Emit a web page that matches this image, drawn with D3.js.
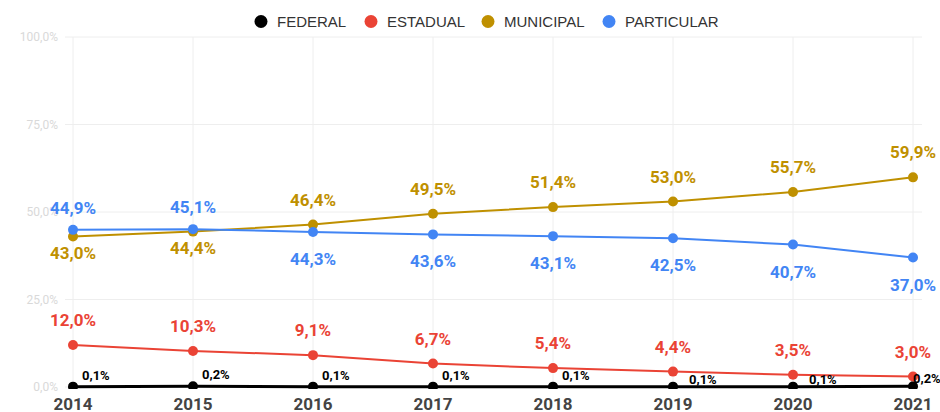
<!DOCTYPE html>
<html>
<head>
<meta charset="utf-8">
<script src="https://cdn.jsdelivr.net/npm/d3@7"></script>
<style>
  body { margin: 0; background: #fff; font-family: Roboto, "Noto Sans", sans-serif; }
  svg { display: block; }
</style>
</head>
<body>
<div id="chart"></div>
<script>
var years = ["2014", "2015", "2016", "2017", "2018", "2019", "2020", "2021"];
var federal = [0.1, 0.2, 0.1, 0.1, 0.1, 0.1, 0.1, 0.2];
var estadual = [12.0, 10.3, 9.1, 6.7, 5.4, 4.4, 3.5, 3.0];
var municipal = [43.0, 44.4, 46.4, 49.5, 51.4, 53.0, 55.7, 59.9];
var particular = [44.9, 45.1, 44.3, 43.6, 43.1, 42.5, 40.7, 37.0];
var yTicks = [0, 25, 50, 75, 100];

var width = 940, height = 412;

var series = [
  { name: "FEDERAL", values: federal, color: "#000000" },
  { name: "ESTADUAL", values: estadual, color: "#ea4335" },
  { name: "MUNICIPAL", values: municipal, color: "#bf9000" },
  { name: "PARTICULAR", values: particular, color: "#4285f4" }
];

var fmt = function (v) { return d3.format(".1f")(v).replace(".", ","); };

var x = d3.scalePoint()
    .domain(years)
    .range([73, 913]);

var y = d3.scaleLinear()
    .domain([0, 100])
    .range([387, 37]);

var svg = d3.select("#chart")
    .append("svg")
    .attr("width", width)
    .attr("height", height);

svg.append("clipPath")
    .attr("id", "plot-clip")
  .append("rect")
    .attr("x", 0)
    .attr("y", 0)
    .attr("width", width)
    .attr("height", y(0) + 2);

// grid
svg.append("g")
  .selectAll("line")
  .data(yTicks)
  .enter().append("line")
    .attr("x1", 65)
    .attr("x2", 922)
    .attr("y1", d => y(d))
    .attr("y2", d => y(d))
    .attr("stroke", "#eeeeee")
    .attr("stroke-width", 1);

svg.append("g")
  .selectAll("line")
  .data(years)
  .enter().append("line")
    .attr("x1", d => x(d))
    .attr("x2", d => x(d))
    .attr("y1", y(100))
    .attr("y2", y(0))
    .attr("stroke", "#eeeeee")
    .attr("stroke-width", 1);

// y labels
svg.append("g")
  .selectAll("text")
  .data(yTicks)
  .enter().append("text")
    .attr("x", 58)
    .attr("y", d => y(d))
    .attr("dy", "0.35em")
    .attr("text-anchor", "end")
    .attr("font-size", 12)
    .attr("fill", "#d9d9d9")
    .text(d => fmt(d) + "%");

// x labels
svg.append("g")
  .selectAll("text")
  .data(years)
  .enter().append("text")
    .attr("x", d => x(d))
    .attr("y", 410)
    .attr("text-anchor", "middle")
    .attr("font-size", 17)
    .attr("font-weight", "bold")
    .attr("fill", "#444444")
    .text(d => d);

var line = d3.line()
    .x((d, i) => x(years[i]))
    .y(d => y(d));

var plot = svg.append("g").attr("clip-path", "url(#plot-clip)");

series.forEach(function (s) {
  plot.append("path")
      .datum(s.values)
      .attr("d", line)
      .attr("fill", "none")
      .attr("stroke", s.color)
      .attr("stroke-width", s.name == "FEDERAL" ? 3 : 2);

  plot.selectAll(null)
      .data(s.values)
      .enter().append("circle")
      .attr("cx", (d, i) => x(years[i]))
      .attr("cy", d => y(d))
      .attr("r", 5)
      .attr("fill", s.color);
});

// data labels
function labelOffset(s, i) {
  if (s.name == "ESTADUAL") return -19;
  if (s.name == "MUNICIPAL") return municipal[i] < particular[i] ? 22 : -19;
  if (s.name == "PARTICULAR") return particular[i] > municipal[i] ? -16 : 33;
  // federal: push down a little when the estadual line is close
  return (y(federal[i]) - y(estadual[i])) < 16 ? -3 : -7;
}

function labelDx(s, i) {
  if (s.name != "FEDERAL") return 0;
  var dx = (y(federal[i]) - y(estadual[i])) < 16 ? 16 : 9;
  // keep the label inside the picture
  return Math.min(dx, width - 27 - x(years[i]));
}

series.forEach(function (s) {
  var small = s.name == "FEDERAL";
  svg.append("g")
    .selectAll("text")
    .data(s.values)
    .enter().append("text")
      .attr("x", (d, i) => x(years[i]) + labelDx(s, i))
      .attr("y", (d, i) => y(d) + labelOffset(s, i))
      .attr("text-anchor", small ? "start" : "middle")
      .attr("font-size", small ? 13 : 17)
      .attr("font-weight", "bold")
      .attr("fill", s.color)
      .text(d => fmt(d) + "%");
});

// legend
var legendX = [261, 371, 488, 609];
var legend = svg.append("g");
series.forEach(function (s, i) {
  legend.append("circle")
      .attr("cx", legendX[i])
      .attr("cy", 21.5)
      .attr("r", 6.5)
      .attr("fill", s.color);
  legend.append("text")
      .attr("x", legendX[i] + 16)
      .attr("y", 21.5)
      .attr("dy", "0.36em")
      .attr("font-family", "'Liberation Sans', Arial, sans-serif")
      .attr("font-size", 15)
      .attr("fill", "#333333")
      .text(s.name);
});
</script>
</body>
</html>
